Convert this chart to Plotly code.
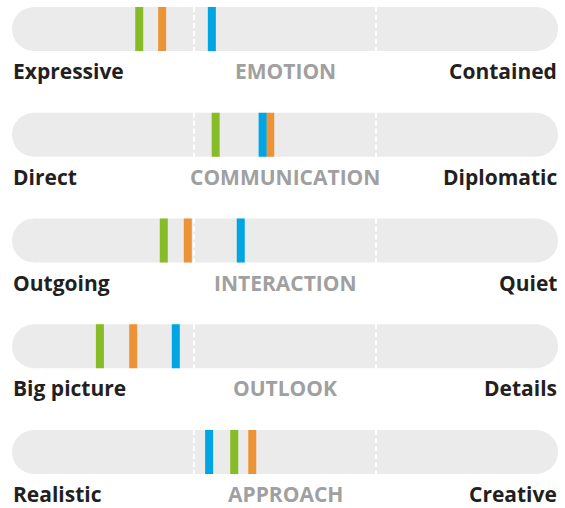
import plotly.graph_objects as go

dimensions = ["EMOTION", "COMMUNICATION", "INTERACTION", "OUTLOOK", "APPROACH"]
left_labels = ["Expressive", "Direct", "Outgoing", "Big picture", "Realistic"]
right_labels = ["Contained", "Diplomatic", "Quiet", "Details", "Creative"]

green_values = [23.3, 37.3, 27.8, 16.1, 40.7]
orange_values = [27.5, 47.3, 32.2, 22.2, 44.0]
blue_values = [36.6, 45.9, 41.9, 30.0, 36.1]

dividers = [100 / 3, 200 / 3]

W, H = 565, 508
PX_PER_UNIT = 5.46          # 546 px for the 0-100 scale
ROW_PX = 105.75             # vertical spacing between rows
BAR_PX = 44                 # track thickness
TRACK_R = (BAR_PX / 2) / PX_PER_UNIT
HALF_H = (BAR_PX / 2) / ROW_PX

rows = list(range(len(dimensions)))

fig = go.Figure()

# gray rounded tracks
tx, ty = [], []
for r in rows:
    tx += [TRACK_R, 100 - TRACK_R, None]
    ty += [r, r, None]
fig.add_trace(go.Scatter(
    x=tx, y=ty, mode="lines+markers",
    line=dict(color="#ebebeb", width=BAR_PX),
    marker=dict(color="#ebebeb", size=BAR_PX, symbol="circle", line=dict(width=0)),
    hoverinfo="skip", showlegend=False))

# dashed dividers
dx, dy = [], []
for r in rows:
    for d in dividers:
        dx += [d, d, None]
        dy += [r - HALF_H, r + HALF_H, None]
fig.add_trace(go.Scatter(
    x=dx, y=dy, mode="lines",
    line=dict(color="#ffffff", width=2, dash="5px,3px"),
    hoverinfo="skip", showlegend=False))

for vals, col in [(green_values, "#86bc25"), (orange_values, "#ec9435"), (blue_values, "#00a5e3")]:
    fig.add_trace(go.Scatter(
        x=vals, y=rows, mode="markers",
        marker=dict(symbol="line-ns", size=BAR_PX / 1.4, line=dict(width=8, color=col), color=col),
        showlegend=False))

FONT = "Open Sans"
LABEL_SHIFT = -42
for r in rows:
    fig.add_annotation(x=0, y=r, xref="x", yref="y", text=left_labels[r], showarrow=False,
                       xanchor="left", yanchor="middle", yshift=LABEL_SHIFT, xshift=-1,
                       font=dict(family=FONT, size=21, color="#231f20", weight="bold"))
    fig.add_annotation(x=100, y=r, xref="x", yref="y", text=right_labels[r], showarrow=False,
                       xanchor="right", yanchor="middle", yshift=LABEL_SHIFT, xshift=1,
                       font=dict(family=FONT, size=21, color="#231f20", weight="bold"))
    fig.add_annotation(x=50, y=r, xref="x", yref="y", text=dimensions[r], showarrow=False,
                       xanchor="center", yanchor="middle", yshift=LABEL_SHIFT,
                       font=dict(family=FONT, size=21, color="#a0a0a0", weight="bold"))

x_lo = -12 / PX_PER_UNIT
x_hi = 100 + 7 / PX_PER_UNIT
y_top = -29 / ROW_PX
y_bot = (H - 29) / ROW_PX

fig.update_layout(
    width=W, height=H,
    margin=dict(l=0, r=0, t=0, b=0),
    paper_bgcolor="#ffffff", plot_bgcolor="#ffffff",
    xaxis=dict(range=[x_lo, x_hi], visible=False, fixedrange=True),
    yaxis=dict(range=[y_bot, y_top], visible=False, fixedrange=True),
)

fig.write_html("out.html", config={"displayModeBar": False},
               post_script="document.body.style.margin='0px';document.body.style.overflow='hidden';")
